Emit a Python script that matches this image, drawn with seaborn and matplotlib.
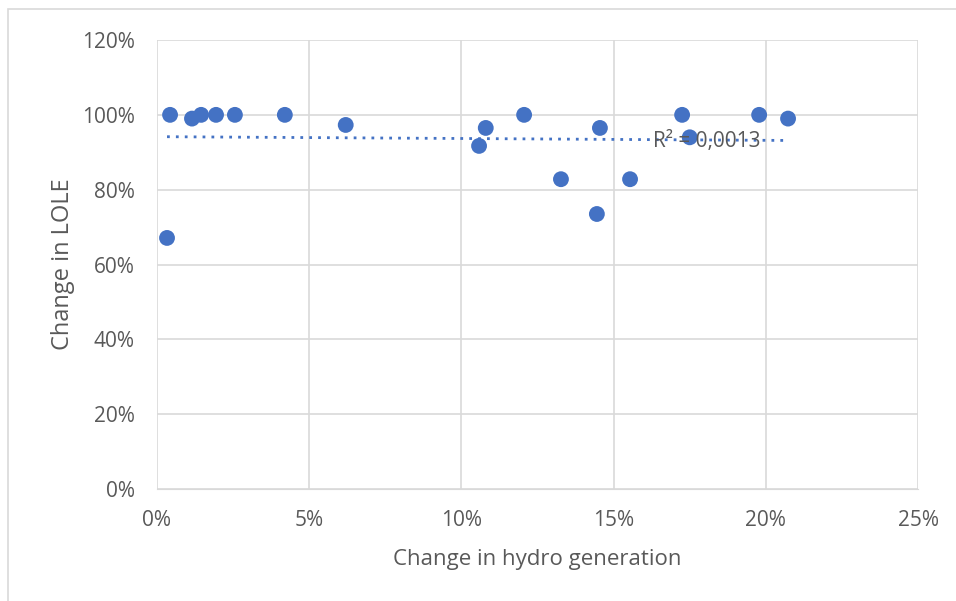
import numpy as np
import pandas as pd
import matplotlib
matplotlib.use("Agg")
import matplotlib.pyplot as plt
import seaborn as sns
from matplotlib.ticker import PercentFormatter
from matplotlib.patches import Rectangle

# values (fractions)
hydro_change = [0.0033, 0.0043, 0.0115, 0.0145, 0.0194, 0.0256, 0.042, 0.062,
                0.1058, 0.108, 0.1206, 0.1327, 0.1445, 0.1455, 0.1554, 0.1725,
                0.175, 0.1978, 0.2073]
lole_change = [0.671, 1.0, 0.99, 1.0, 1.0, 1.0, 1.0, 0.973,
               0.917, 0.965, 1.0, 0.828, 0.735, 0.965, 0.828, 1.0,
               0.94, 1.0, 0.99]

df = pd.DataFrame({'hydro': hydro_change, 'lole': lole_change})

sns.set_style("white")
plt.rcParams['font.family'] = ['Open Sans', 'DejaVu Sans']

fig = plt.figure(figsize=(9.56, 6.01), dpi=100)
ax = fig.add_axes([0.1642, 0.1864, 0.7961, 0.747])

blue = '#4472C4'
grey = '#595959'

# linear trendline like Excel
slope, intercept = np.polyfit(df.hydro, df.lole, 1)
xs = np.array([df.hydro.min(), df.hydro.max()])
ax.plot(xs, slope * xs + intercept, color=blue, linestyle=(0, (1, 2.2)),
        linewidth=2, zorder=2)

sns.scatterplot(data=df, x='hydro', y='lole', ax=ax, color=blue, s=130,
                edgecolor='none', zorder=3)

ax.text(0.163, 0.928, 'R² = 0,0013', color=grey, fontsize=15,
        ha='left', va='center', zorder=4)

ax.set_xlim(0, 0.25)
ax.set_ylim(0, 1.2)
ax.set_xticks(np.arange(0, 0.26, 0.05))
ax.set_yticks(np.arange(0, 1.21, 0.2))
ax.xaxis.set_major_formatter(PercentFormatter(1.0, decimals=0))
ax.yaxis.set_major_formatter(PercentFormatter(1.0, decimals=0))
ax.grid(True, color='#d9d9d9', linewidth=1.2)
ax.set_axisbelow(True)
for s in ax.spines.values():
    s.set_visible(False)
ax.spines['bottom'].set_visible(True)
ax.spines['bottom'].set_color('#d9d9d9')
ax.tick_params(axis='both', length=0, labelsize=15, colors=grey)
ax.tick_params(axis='x', pad=15)
ax.tick_params(axis='y', pad=16)

ax.set_xlabel('Change in hydro generation', fontsize=16, color=grey, labelpad=13)
ax.set_ylabel('Change in LOLE', fontsize=17, color=grey, labelpad=5)

# outer chart border
fig.patches.append(Rectangle((0.008, -0.01), 1.1, 0.995, transform=fig.transFigure,
                             fill=False, edgecolor='#d9d9d9', linewidth=1.2))

fig.savefig('out.png', dpi=100)
